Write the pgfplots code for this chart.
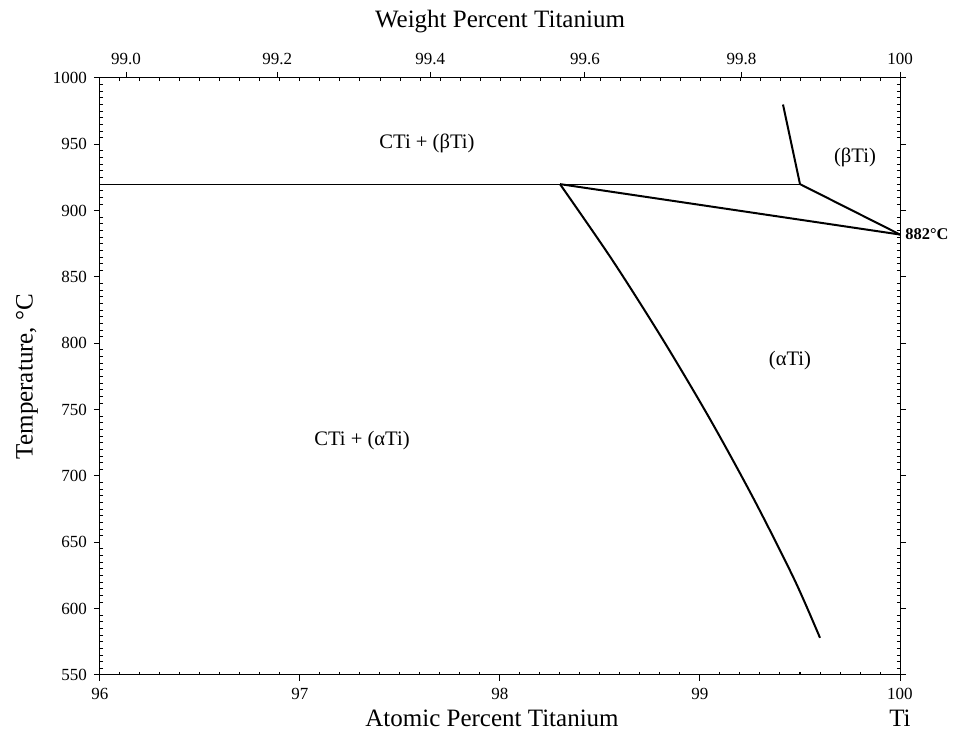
\documentclass[border=0pt]{standalone}
\usepackage{fontspec}
\setmainfont{Liberation Serif}
\usepackage{pgfplots}
\pgfplotsset{compat=1.18}
\begin{document}
\begin{tikzpicture}
\pgfplotsset{
  common/.style={
    scale only axis, width=400pt, height=298.5pt,
    xmin=96, xmax=100, ymin=550, ymax=1000,
    tick align=outside, major tick length=3pt, minor tick length=-1.6pt,
    every tick/.style={black, line width=0.5pt},
    /pgf/number format/assume math mode=true,
    /pgf/number format/1000 sep={},
    tick label style={font=\fontsize{8.5}{10}\selectfont},
    axis line style={line width=0.5pt},
    label style={font=\fontsize{12.5}{15}\selectfont},
  }
}
\begin{axis}[common, name=main, clip=false,
  xtick={96,97,98,99,100}, xtick pos=bottom, minor x tick num=9,
  ytick={550,600,...,1000}, minor y tick num=9, ytick pos=both,
  xlabel={Atomic Percent Titanium}, ylabel={Temperature, °C},
  xlabel style={at={(axis description cs:0.49,-0.072)}, anchor=center},
  ylabel style={at={(axis description cs:-0.0913,0.5)}, anchor=center},
]
\addplot[black, line width=0.6pt] coordinates {(96,920) (99.5,920)};
\addplot[black, line width=1pt] coordinates {(99.415,980) (99.5,920) (100,882)};
\addplot[black, line width=1pt] coordinates {(98.3,920) (100,882)};
\addplot[black, line width=1pt, smooth] coordinates {(98.3,920) (98.5615,862.8) (98.8155,802.5) (99.0525,742.2) (99.2715,681.9) (99.473,621.6) (99.6,578)};
\node[font=\fontsize{10.3}{12}\selectfont] at (axis cs:97.635,951) {CTi + (βTi)};
\node[font=\fontsize{10.3}{12}\selectfont] at (axis cs:99.775,940) {(βTi)};
\node[font=\fontsize{10.3}{12}\selectfont] at (axis cs:99.45,787) {(αTi)};
\node[font=\fontsize{10.3}{12}\selectfont] at (axis cs:97.31,727) {CTi + (αTi)};
\node[font=\bfseries\fontsize{8.2}{10}\selectfont, anchor=west, inner sep=1pt, xshift=1.5pt] at (axis cs:100,882) {882°C};
\node[font=\fontsize{12.5}{15}\selectfont] at (axis description cs:1,-0.072) {Ti};
\end{axis}
\begin{axis}[common, at={(main.south west)}, anchor=south west,
  axis x line*=top, axis y line=none, x axis line style={-},
  xtick={96.1303,96.8858,97.6509,98.4247,99.2077,100},
  xticklabels={99.0,99.2,99.4,99.6,99.8,100},
  minor xtick={96,96.1,...,100},
  xlabel={Weight Percent Titanium},
  xlabel style={at={(axis description cs:0.5,1.094)}, anchor=center},
]
\end{axis}
\pgfresetboundingbox
\path[use as bounding box] ([xshift=-50pt,yshift=-33.5pt]main.south west) rectangle ([xshift=27.5pt,yshift=39pt]main.north east);
\end{tikzpicture}
\end{document}
